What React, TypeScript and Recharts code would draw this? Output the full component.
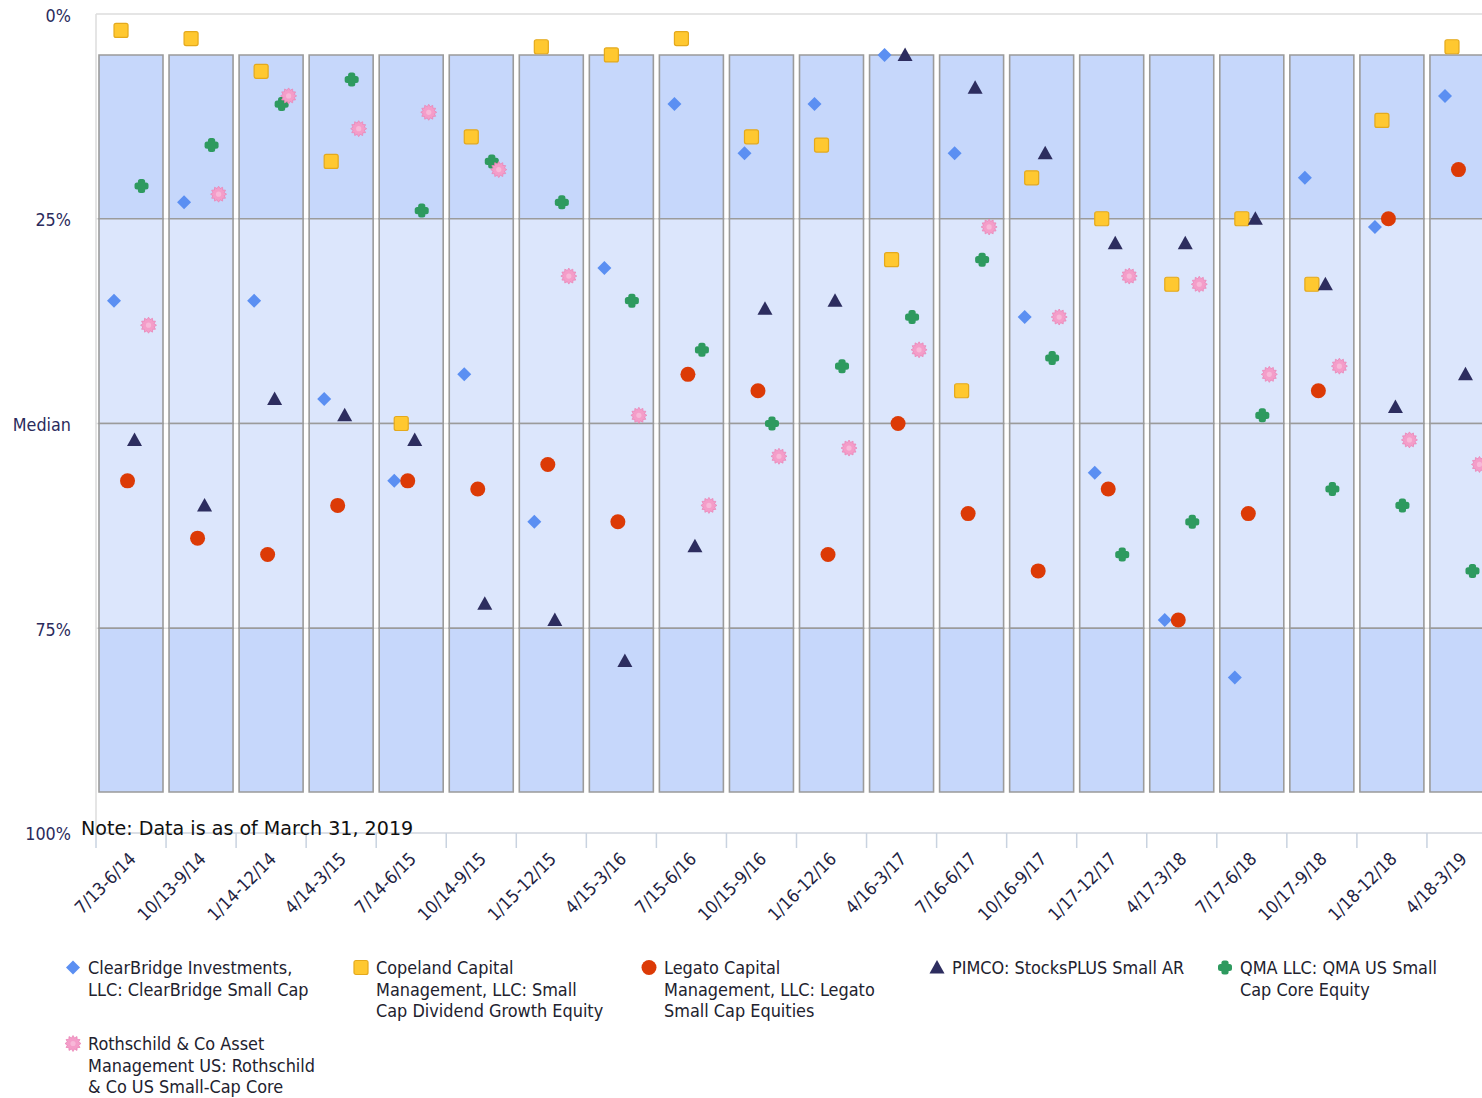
import React from 'react';
import { ComposedChart, Bar, Line, XAxis, YAxis, CartesianGrid } from 'recharts';

// ---------- data ----------
const periods = [
  '7/13-6/14', '10/13-9/14', '1/14-12/14', '4/14-3/15', '7/14-6/15',
  '10/14-9/15', '1/15-12/15', '4/15-3/16', '7/15-6/16', '10/15-9/16',
  '1/16-12/16', '4/16-3/17', '7/16-6/17', '10/16-9/17', '1/17-12/17',
  '4/17-3/18', '7/17-6/18', '10/17-9/18', '1/18-12/18', '4/18-3/19',
];
// universe box percentile edges (5th, 25th, median, 75th, 95th)
const boxEdges = [5, 25, 50, 75, 95];

const clearBridge = [35, 23, 35, 47, 57, 44, 62, 31, 11, 17, 11, 5, 17, 37, 56, 74, 81, 20, 26, 10];
const copeland = [2, 3, 7, 18, 50, 15, 4, 5, 3, 15, 16, 30, 46, 20, 25, 33, 25, 33, 13, 4];
const legato = [57, 64, 66, 60, 57, 58, 55, 62, 44, 46, 66, 50, 61, 68, 58, 74, 61, 46, 25, 19];
const pimco = [52, 60, 47, 49, 52, 72, 74, 79, 65, 36, 35, 5, 9, 17, 28, 28, 25, 33, 48, 44];
const qma = [21, 16, 11, 8, 24, 18, 23, 35, 41, 50, 43, 37, 30, 42, 66, 62, 49, 58, 60, 68];
const rothschild = [38, 22, 10, 14, 12, 19, 32, 49, 60, 54, 53, 41, 26, 37, 32, 33, 44, 43, 52, 55];

const yTicks = [0, 25, 50, 75, 100];
const yTickLabels = ['0%', '25%', 'Median', '75%', '100%'];

// legend labels, with the line breaks used in the reference legend
const seriesNames = [
  'ClearBridge Investments,\nLLC: ClearBridge Small Cap',
  'Copeland Capital\nManagement, LLC: Small\nCap Dividend Growth Equity',
  'Legato Capital\nManagement, LLC: Legato\nSmall Cap Equities',
  'PIMCO: StocksPLUS Small AR',
  'QMA LLC: QMA US Small\nCap Core Equity',
  'Rothschild & Co Asset\nManagement US: Rothschild\n& Co US Small-Cap Core',
];
const seriesValues = [clearBridge, copeland, legato, pimco, qma, rothschild];
const seriesKeys = ['clearBridge', 'copeland', 'legato', 'pimco', 'qma', 'rothschild'];

// ---------- styles ----------
const seriesStyle = [
  { shape: 'diamond', color: '#5b8ff2', dx: -17 },
  { shape: 'square', color: '#ffc830', dx: -10 },
  { shape: 'circle', color: '#dc3a06', dx: -3.5 },
  { shape: 'triangle', color: '#2d2d5f', dx: 3.5 },
  { shape: 'plus', color: '#2e9a5f', dx: 10.5 },
  { shape: 'star', color: '#f49dc9', dx: 17.5 },
];

const CHART_W = 1510;
const CHART_H = 940;
const MARGIN = { top: 14, right: 13, bottom: 17, left: 0 };
const Y_AXIS_W = 96;
const X_AXIS_H = 90;
const PLOT_W = CHART_W - MARGIN.left - MARGIN.right - Y_AXIS_W;
const BAND = PLOT_W / periods.length;

const LABEL_FONT = "'DejaVu Sans Condensed', 'DejaVu Sans', sans-serif";

const tableData = periods.map((p, i) => {
  const row: any = {
    period: p,
    gap: boxEdges[0],
    q1: boxEdges[1] - boxEdges[0],
    q2: boxEdges[2] - boxEdges[1],
    q3: boxEdges[3] - boxEdges[2],
    q4: boxEdges[4] - boxEdges[3],
  };
  seriesKeys.forEach((k, s) => {
    row[k] = seriesValues[s][i];
  });
  return row;
});

function Marker({ shape, color, cx, cy }: { shape: string; color: string; cx: number; cy: number }) {
  switch (shape) {
    case 'diamond':
      return <polygon points={`${cx},${cy - 7} ${cx + 7},${cy} ${cx},${cy + 7} ${cx - 7},${cy}`} fill={color} />;
    case 'square':
      return <rect x={cx - 7} y={cy - 7} width={14} height={14} rx={2} fill={color} stroke="#e4a91c" strokeWidth={1.2} />;
    case 'circle':
      return <circle cx={cx} cy={cy} r={7.5} fill={color} />;
    case 'triangle':
      return <polygon points={`${cx},${cy - 7.5} ${cx + 7.5},${cy + 6} ${cx - 7.5},${cy + 6}`} fill={color} />;
    case 'plus':
      return (
        <g fill={color}>
          <rect x={cx - 7} y={cy - 3.6} width={14} height={7.2} rx={2.5} />
          <rect x={cx - 3.6} y={cy - 7} width={7.2} height={14} rx={2.5} />
        </g>
      );
    case 'star': {
      const pts: string[] = [];
      const n = 12;
      for (let k = 0; k < n * 2; k++) {
        const r = k % 2 === 0 ? 8 : 5.8;
        const a = (Math.PI * k) / n;
        pts.push(`${cx + r * Math.sin(a)},${cy - r * Math.cos(a)}`);
      }
      return (
        <g>
          <polygon points={pts.join(' ')} fill={color} stroke="#ea86b8" strokeWidth={0.8} />
          <circle cx={cx} cy={cy} r={2.6} fill="#f7b8d8" />
        </g>
      );
    }
    default:
      return null;
  }
}

const makeDot = (s: number) => (props: any) => {
  const { cx, cy, index } = props;
  if (cx == null || cy == null) return <g key={`e-${s}-${index}`} />;
  const st = seriesStyle[s];
  return (
    <g key={`d-${s}-${index}`}>
      <Marker shape={st.shape} color={st.color} cx={cx + st.dx} cy={cy} />
    </g>
  );
};

const XTick = (props: any) => {
  const { x, y, payload } = props;
  const bx = x - BAND / 2;
  return (
    <g>
      <line x1={bx} x2={bx} y1={y} y2={y + 15} stroke="#c9d3e0" strokeWidth={1.5} />
      <text
        x={x + 6}
        y={y + 27}
        textAnchor="end"
        transform={`rotate(-45, ${x + 6}, ${y + 27})`}
        fontFamily={LABEL_FONT}
        fontSize={17.8}
        fill="#232342"
      >
        {payload.value}
      </text>
    </g>
  );
};

const YTick = (props: any) => {
  const { x, y, payload } = props;
  const idx = yTicks.indexOf(payload.value);
  return (
    <text x={x} y={y + (idx === 0 ? 2 : 1)} dy="0.36em" textAnchor="end" fontFamily={LABEL_FONT} fontSize={17.8} fill="#2b2b5c">
      {yTickLabels[idx]}
    </text>
  );
};

const boxStroke = '#9b9b9b';
const darkBand = '#c6d7fb';
const lightBand = '#dce6fc';

export default function App() {
  return (
    <div
      style={{
        position: 'absolute',
        left: 0,
        top: 0,
        width: 1482,
        height: 1098,
        overflow: 'hidden',
        background: '#ffffff',
      }}
    >
      <ComposedChart width={CHART_W} height={CHART_H} data={tableData} margin={MARGIN}>
        <CartesianGrid vertical={false} stroke="#dddddd" strokeWidth={1.5} />
        <XAxis
          dataKey="period"
          type="category"
          height={X_AXIS_H}
          interval={0}
          tickLine={false}
          tickSize={0}
          tickMargin={0}
          axisLine={{ stroke: '#d8dde5', strokeWidth: 1.5 }}
          tick={<XTick />}
        />
        <YAxis
          type="number"
          domain={[0, 100]}
          reversed
          ticks={yTicks}
          width={Y_AXIS_W}
          interval={0}
          tickLine={false}
          tickSize={0}
          tickMargin={25}
          axisLine={{ stroke: '#dddddd', strokeWidth: 1.5 }}
          tick={<YTick />}
        />
        <Bar dataKey="gap" stackId="box" fill="none" stroke="none" barSize={64} isAnimationActive={false} />
        <Bar dataKey="q1" stackId="box" fill={darkBand} stroke={boxStroke} strokeWidth={1.6} barSize={64} isAnimationActive={false} />
        <Bar dataKey="q2" stackId="box" fill={lightBand} stroke={boxStroke} strokeWidth={1.6} barSize={64} isAnimationActive={false} />
        <Bar dataKey="q3" stackId="box" fill={lightBand} stroke={boxStroke} strokeWidth={1.6} barSize={64} isAnimationActive={false} />
        <Bar dataKey="q4" stackId="box" fill={darkBand} stroke={boxStroke} strokeWidth={1.6} barSize={64} isAnimationActive={false} />
        {seriesKeys.map((k, s) => (
          <Line
            key={k}
            dataKey={k}
            name={seriesNames[s]}
            stroke="none"
            dot={makeDot(s)}
            activeDot={false}
            isAnimationActive={false}
          />
        ))}
      </ComposedChart>

      <svg
        width={1482}
        height={1098}
        style={{ position: 'absolute', left: 0, top: 0, pointerEvents: 'none' }}
      >
        <text x={81} y={835} fontFamily="'DejaVu Sans', sans-serif" fontSize={19.1} fill="#111111">
          Note: Data is as of March 31, 2019
        </text>
      </svg>

      <div
        style={{
          position: 'absolute',
          left: 0,
          top: 957,
          width: 1482,
          fontFamily: LABEL_FONT,
          fontSize: 17.9,
          lineHeight: '21.5px',
          color: '#22222e',
        }}
      >
        {seriesNames.map((name, s) => {
          const col = s % 5;
          const row = Math.floor(s / 5);
          return (
            <div
              key={name}
              style={{
                position: 'absolute',
                left: 64 + col * 288,
                top: row * 76,
                display: 'flex',
                alignItems: 'flex-start',
              }}
            >
              <svg width={18} height={21.5} style={{ flex: 'none' }}>
                <Marker shape={seriesStyle[s].shape} color={seriesStyle[s].color} cx={9} cy={10.5} />
              </svg>
              <div style={{ marginLeft: 6, width: 260, whiteSpace: 'pre-line' }}>{name}</div>
            </div>
          );
        })}
      </div>
    </div>
  );
}
